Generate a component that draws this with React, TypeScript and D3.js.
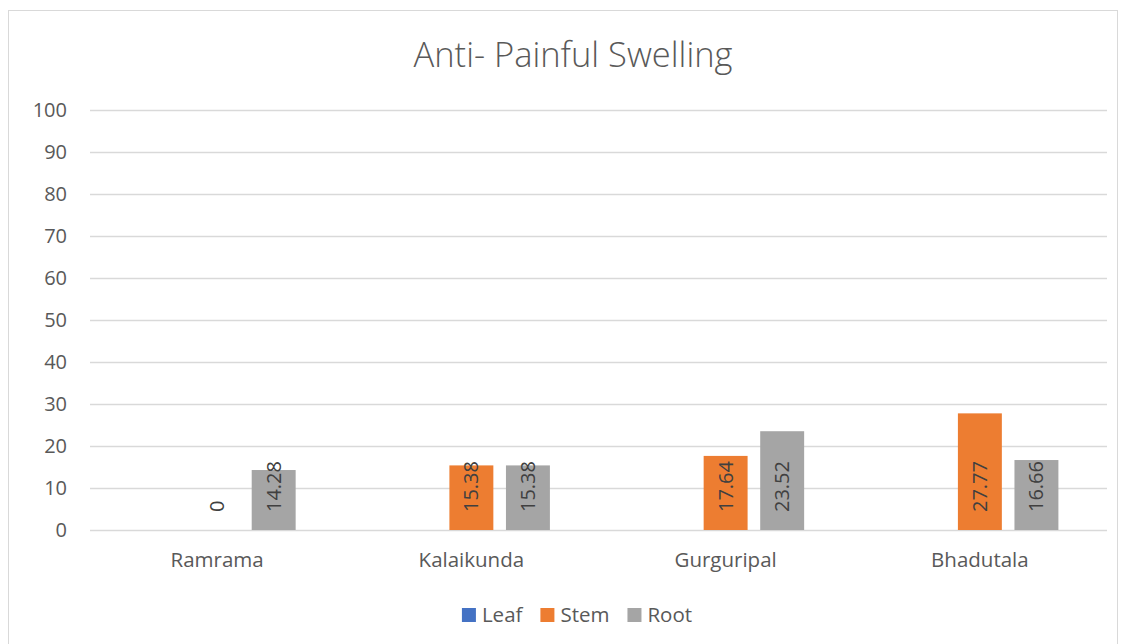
import React, { useEffect, useRef } from "react";
import * as d3 from "d3";

const categories = ["Ramrama", "Kalaikunda", "Gurguripal", "Bhadutala"];
const seriesNames = ["Leaf", "Stem", "Root"];
const leafValues: (number | null)[] = [null, null, null, null];
const stemValues: (number | null)[] = [0, 15.38, 17.64, 27.77];
const rootValues: (number | null)[] = [14.28, 15.38, 23.52, 16.66];
const yTicks = [0, 10, 20, 30, 40, 50, 60, 70, 80, 90, 100];
const titleText = "Anti- Painful Swelling";

const colors: Record<string, string> = { Leaf: "#4472C4", Stem: "#ED7D31", Root: "#A5A5A5" };
const FONT = "'Open Sans', sans-serif";
const TEXT = "#595959";

export default function App() {
  const ref = useRef<SVGSVGElement | null>(null);

  useEffect(() => {
    document.body.style.margin = "0";
    const svg = d3.select(ref.current);
    svg.selectAll("*").remove();

    const W = 1122, H = 644;
    const left = 90, right = 1107, top = 110, bottom = 530;

    // chart frame
    svg.append("rect")
      .attr("x", 8.5).attr("y", 10.5)
      .attr("width", W - 13).attr("height", H)
      .attr("fill", "#fff").attr("stroke", "#D9D9D9").attr("stroke-width", 1);

    svg.append("text")
      .attr("x", 573).attr("y", 67)
      .attr("text-anchor", "middle")
      .attr("font-family", FONT).attr("font-size", 34.5).attr("font-weight", 300)
      .attr("fill", TEXT)
      .text(titleText);

    const y = d3.scaleLinear().domain([0, 100]).range([bottom, top]);
    const x0 = d3.scaleBand<string>().domain(categories).range([left, right]).padding(0);
    const groupPad = 48.6;
    const x1 = d3.scaleBand<string>().domain(seriesNames)
      .range([groupPad, x0.bandwidth() - groupPad])
      .paddingInner(0.223).paddingOuter(0);

    // gridlines
    svg.append("g").selectAll("line").data(yTicks).join("line")
      .attr("x1", left).attr("x2", right)
      .attr("y1", (d) => Math.round(y(d)) + 0.5).attr("y2", (d) => Math.round(y(d)) + 0.5)
      .attr("stroke", "#D9D9D9").attr("stroke-width", 1.3);

    // y tick labels
    svg.append("g").selectAll("text").data(yTicks).join("text")
      .attr("x", 67).attr("y", (d) => y(d))
      .attr("dy", "0.35em")
      .attr("text-anchor", "end")
      .attr("font-family", FONT).attr("font-size", 20).attr("fill", TEXT)
      .text((d) => String(d));

    // category labels
    svg.append("g").selectAll("text").data(categories).join("text")
      .attr("x", (d) => (x0(d) as number) + x0.bandwidth() / 2)
      .attr("y", 567)
      .attr("text-anchor", "middle")
      .attr("font-family", FONT).attr("font-size", 20.5).attr("fill", TEXT)
      .text((d) => d);

    const seriesData: Record<string, (number | null)[]> = {
      Leaf: leafValues, Stem: stemValues, Root: rootValues,
    };

    const points = categories.flatMap((c, i) =>
      seriesNames.map((s) => ({ cat: c, series: s, value: seriesData[s][i] }))
    ).filter((p) => p.value !== null) as { cat: string; series: string; value: number }[];

    const g = svg.append("g");
    g.selectAll("rect").data(points).join("rect")
      .attr("x", (d) => (x0(d.cat) as number) + (x1(d.series) as number))
      .attr("width", x1.bandwidth())
      .attr("y", (d) => y(d.value))
      .attr("height", (d) => y(0) - y(d.value))
      .attr("fill", (d) => colors[d.series]);

    // value labels, rotated, anchored at bar base
    g.selectAll("text").data(points).join("text")
      .attr("transform", (d) => {
        const cx = (x0(d.cat) as number) + (x1(d.series) as number) + x1.bandwidth() / 2;
        return `translate(${cx},${y(0) - 18}) rotate(-90)`;
      })
      .attr("dy", "0.35em")
      .attr("text-anchor", "start")
      .attr("font-family", FONT).attr("font-size", 20).attr("fill", "#404040")
      .text((d) => String(d.value));

    // legend
    const legend = svg.append("g");
    const sw = 14;
    let cursor = 0;
    seriesNames.forEach((s) => {
      const item = legend.append("g");
      item.append("rect").attr("width", sw).attr("height", sw).attr("y", -sw / 2).attr("fill", colors[s]);
      const t = item.append("text")
        .attr("x", sw + 6).attr("dy", "0.35em")
        .attr("font-family", FONT).attr("font-size", 20.5).attr("fill", TEXT)
        .text(s);
      const w = sw + 6 + (t.node() as SVGTextElement).getComputedTextLength();
      item.attr("transform", `translate(${cursor},0)`);
      cursor += w + 18;
    });
    const total = cursor - 18;
    legend.attr("transform", `translate(${577 - total / 2},615)`);
  }, []);

  return <svg ref={ref} width={1122} height={644} style={{ display: "block" }} />;
}
